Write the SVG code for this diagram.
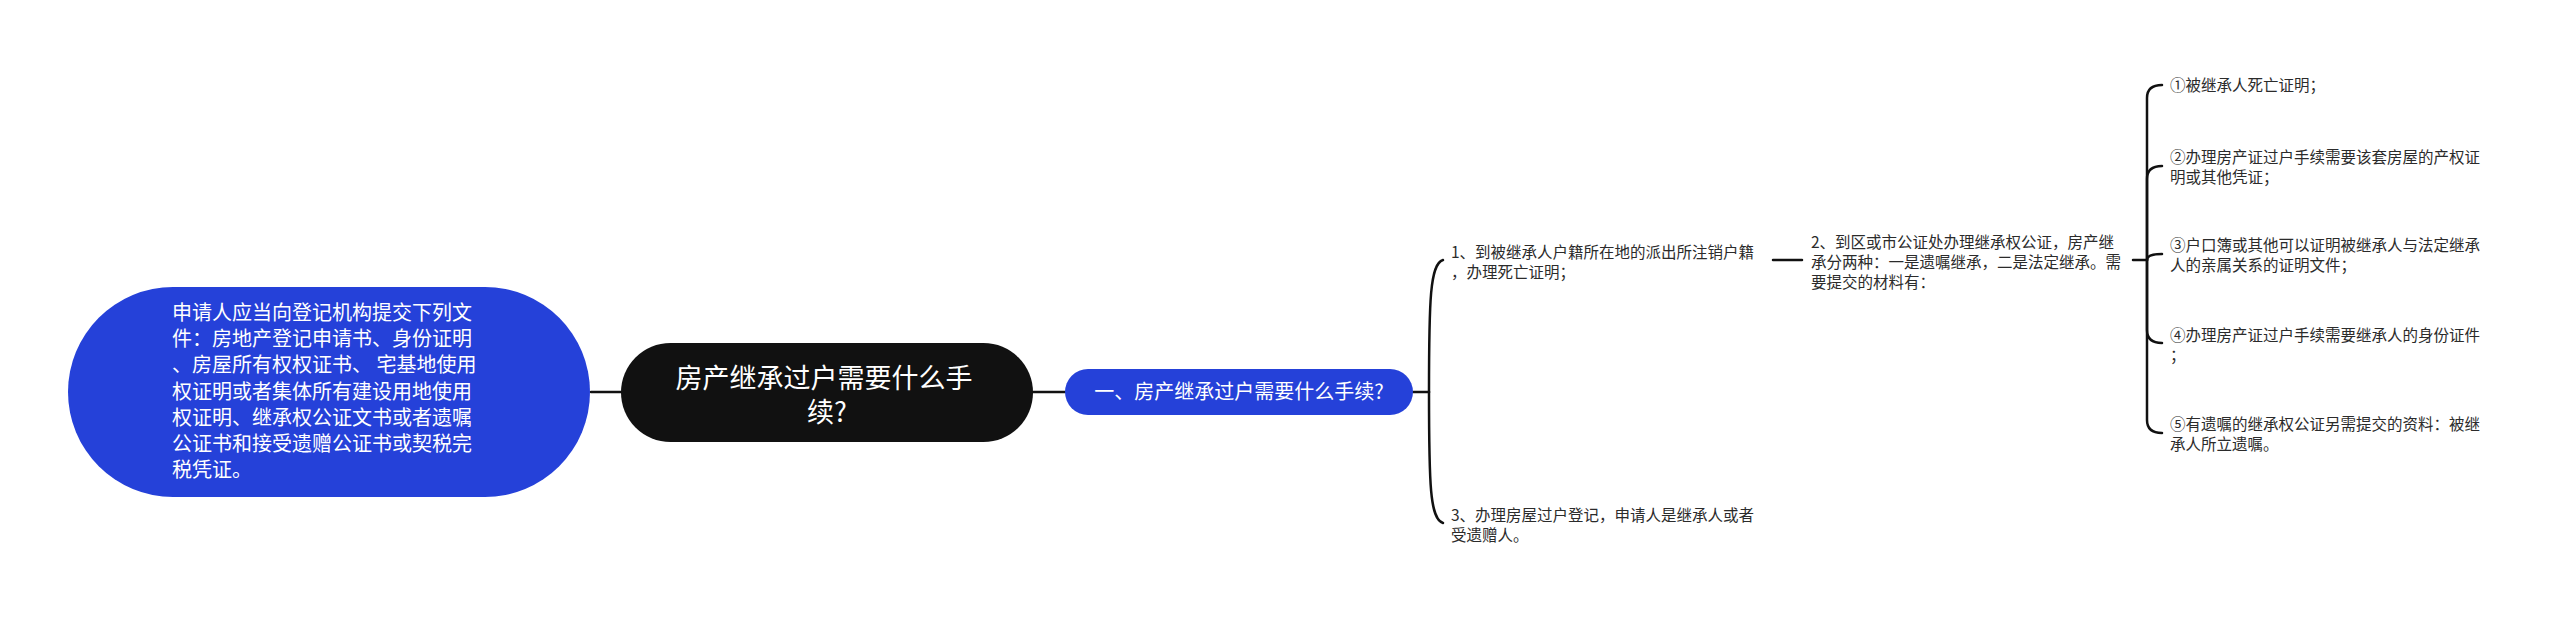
<svg xmlns="http://www.w3.org/2000/svg" width="2560" height="621" viewBox="0 0 2560 621">
<style>
.cn{fill:none;stroke:#111;stroke-width:2.5;stroke-linecap:round}
.t{font-family:"Noto Sans CJK SC","Noto Sans",sans-serif}
.w{fill:#fff}
.d{fill:#2b2b2b;font-size:15.5px}
</style>
<rect width="2560" height="621" fill="#fff"/>
<g id="connectors">
<line class="cn" x1="591" y1="392" x2="621" y2="392"/>
<line class="cn" x1="1033" y1="392" x2="1065" y2="392"/>
<line class="cn" x1="1413" y1="392" x2="1429" y2="392"/>
<path class="cn" d="M1429 392 C1429 300 1430 264 1443 260"/>
<path class="cn" d="M1429 392 C1429 485 1430 519 1443 523"/>
<line class="cn" x1="1773" y1="260" x2="1802" y2="260"/>
<line class="cn" x1="2133" y1="260" x2="2147" y2="260"/>
<path class="cn" d="M2147 260 L2147 98 Q2147 85 2162 85"/>
<path class="cn" d="M2147 260 L2147 179 Q2147 166 2162 166"/>
<path class="cn" d="M2147 260 Q2147 254 2162 254"/>
<path class="cn" d="M2147 260 L2147 330 Q2147 343 2162 343"/>
<path class="cn" d="M2147 260 L2147 420 Q2147 433 2162 433"/>
</g>
<g id="node-left">
<rect x="68" y="287" width="522" height="210" rx="105" fill="#2541D9"/>
<text class="t w" font-size="20">
<tspan x="172" y="320">申请人应当向登记机构提交下列文</tspan>
<tspan x="172" y="346">件：房地产登记申请书、身份证明</tspan>
<tspan x="172" y="372">、房屋所有权权证书、 宅基地使用</tspan>
<tspan x="172" y="399">权证明或者集体所有建设用地使用</tspan>
<tspan x="172" y="425">权证明、继承权公证文书或者遗嘱</tspan>
<tspan x="172" y="451">公证书和接受遗赠公证书或契税完</tspan>
<tspan x="172" y="477">税凭证。</tspan>
</text>
</g>
<g id="node-center">
<rect x="621" y="343" width="412" height="99" rx="49.5" fill="#111"/>
<text class="t w" font-size="27" text-anchor="middle">
<tspan x="827" y="387.5">房产继承过户需要什么手</tspan>
<tspan x="827" y="421.5">续?</tspan>
</text>
</g>
<g id="node-branch">
<rect x="1065" y="369" width="348" height="46" rx="23" fill="#2541D9"/>
<text class="t w" font-size="20" text-anchor="middle" x="1239" y="399">一、房产继承过户需要什么手续?</text>
</g>
<g id="node-item1">
<text class="t d"><tspan x="1451" y="257.5">1、到被继承人户籍所在地的派出所注销户籍</tspan><tspan x="1451" y="277.5">，办理死亡证明；</tspan></text>
</g>
<g id="node-item2">
<text class="t d"><tspan x="1811" y="247.5">2、到区或市公证处办理继承权公证，房产继</tspan><tspan x="1811" y="267.5">承分两种：一是遗嘱继承，二是法定继承。需</tspan><tspan x="1811" y="287.5">要提交的材料有：</tspan></text>
</g>
<g id="node-item3">
<text class="t d"><tspan x="1451" y="520.5">3、办理房屋过户登记，申请人是继承人或者</tspan><tspan x="1451" y="540.5">受遗赠人。</tspan></text>
</g>
<g id="node-m1">
<text class="t d"><tspan x="2170" y="90.5">①被继承人死亡证明；</tspan></text>
</g>
<g id="node-m2">
<text class="t d"><tspan x="2170" y="162.5">②办理房产证过户手续需要该套房屋的产权证</tspan><tspan x="2170" y="182.5">明或其他凭证；</tspan></text>
</g>
<g id="node-m3">
<text class="t d"><tspan x="2170" y="250.5">③户口簿或其他可以证明被继承人与法定继承</tspan><tspan x="2170" y="270.5">人的亲属关系的证明文件；</tspan></text>
</g>
<g id="node-m4">
<text class="t d"><tspan x="2170" y="340.5">④办理房产证过户手续需要继承人的身份证件</tspan><tspan x="2170" y="360.5">；</tspan></text>
</g>
<g id="node-m5">
<text class="t d"><tspan x="2170" y="429.5">⑤有遗嘱的继承权公证另需提交的资料：被继</tspan><tspan x="2170" y="449.5">承人所立遗嘱。</tspan></text>
</g>
</svg>
